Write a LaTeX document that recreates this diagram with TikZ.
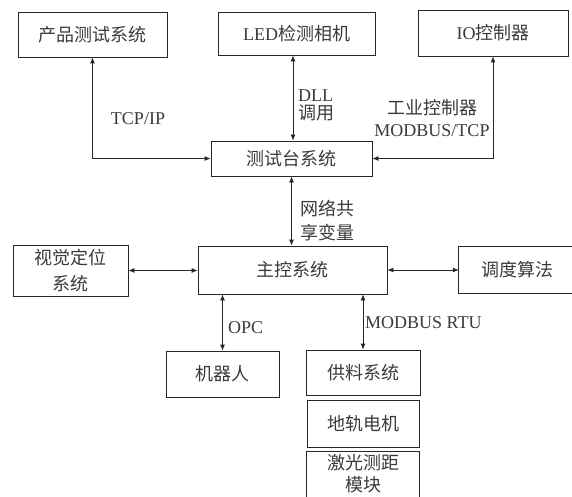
\documentclass[tikz,border=0pt]{standalone}
\usepackage{fontspec}
\setmainfont{Liberation Serif}
\newfontfamily\cjk{Noto Sans CJK SC}
\usetikzlibrary{arrows.meta}
\definecolor{txt}{HTML}{3A3A3A}
\definecolor{ln}{HTML}{262626}
\tikzset{
  box/.style={draw=ln, line width=0.8pt, inner sep=0pt, align=center},
  arr/.style={{Latex[length=6pt,width=5pt]}-{Latex[length=6pt,width=5pt]}, draw=ln, line width=0.8pt},
  lbl/.style={inner sep=0pt, align=center}
}
\begin{document}
\begin{tikzpicture}[x=1pt, y=-1pt, font=\fontsize{18}{22}\selectfont, text=txt]
\useasboundingbox (0,0) rectangle (572,497);
% boxes
\node[box, minimum width=149pt, minimum height=45pt] (prod) at (92.5,34.5) {\cjk 产品测试系统};
\node[box, minimum width=157pt, minimum height=43pt] (led) at (296.5,33.5) {LED{\cjk 检测相机}};
\node[box, minimum width=150pt, minimum height=46pt] (io) at (493,33) {IO{\cjk 控制器}};
\node[box, minimum width=161pt, minimum height=35pt] (test) at (291.5,158.5) {\cjk 测试台系统};
\node[box, minimum width=115pt, minimum height=51pt] (vis) at (70.5,270.5) {\cjk 视觉定位\\[4pt]\cjk 系统};
\node[box, minimum width=189pt, minimum height=48pt] (main) at (292.5,270) {\cjk 主控系统};
\node[lbl, minimum width=116pt, minimum height=46pt] (sched) at (517,270) {\cjk 调度算法};
\draw[draw=ln, line width=0.8pt] (sched.north east) -- (sched.north west) -- (sched.south west) -- (sched.south east);
\node[box, minimum width=113pt, minimum height=46pt] (robot) at (222.5,374) {\cjk 机器人};
\node[box, minimum width=114pt, minimum height=45pt] (feed) at (363,372.5) {\cjk 供料系统};
\node[box, minimum width=112pt, minimum height=47pt] (rail) at (363,423.5) {\cjk 地轨电机};
\node[lbl, minimum width=112pt, minimum height=44pt] (laser) at (363,474) {\cjk 激光测距\\\cjk 模块};
\draw[draw=ln, line width=0.8pt] ([yshift=-8pt]laser.south west) -- (laser.north west) -- (laser.north east) -- ([yshift=-8pt]laser.south east);
% connectors
\coordinate (ledx) at (293,0);
\draw[arr] (prod.south) |- (test.west);
\draw[arr] (led.south -| ledx) -- (test.north -| ledx);
\draw[arr] (io.south) |- (test.east);
\draw[arr] (test.south) -- (test.south |- main.north);
\draw[arr] (vis.east) -- (vis.east -| main.west);
\draw[arr] (main.east) -- (main.east -| sched.west);
\draw[arr] (main.south -| robot.north) -- (robot.north);
\draw[arr] (main.south -| feed.north) -- (feed.north);
% labels
\node[lbl] (l1) at (138,119) {TCP/IP};
\node[lbl, anchor=west, align=left] (l2) at (298,105) {DLL\\[-4pt]\cjk 调用};
\node[lbl] (l3) at (432,118) {\cjk 工业控制器\\MODBUS/TCP};
\node[lbl, anchor=west, align=left] (l4) at (300,221) {\cjk 网络共\\[2pt]\cjk 享变量};
\node[lbl, anchor=west] (l5) at (228,328) {OPC};
\node[lbl, anchor=west] (l6) at (365,323) {MODBUS RTU};
\end{tikzpicture}
\end{document}
